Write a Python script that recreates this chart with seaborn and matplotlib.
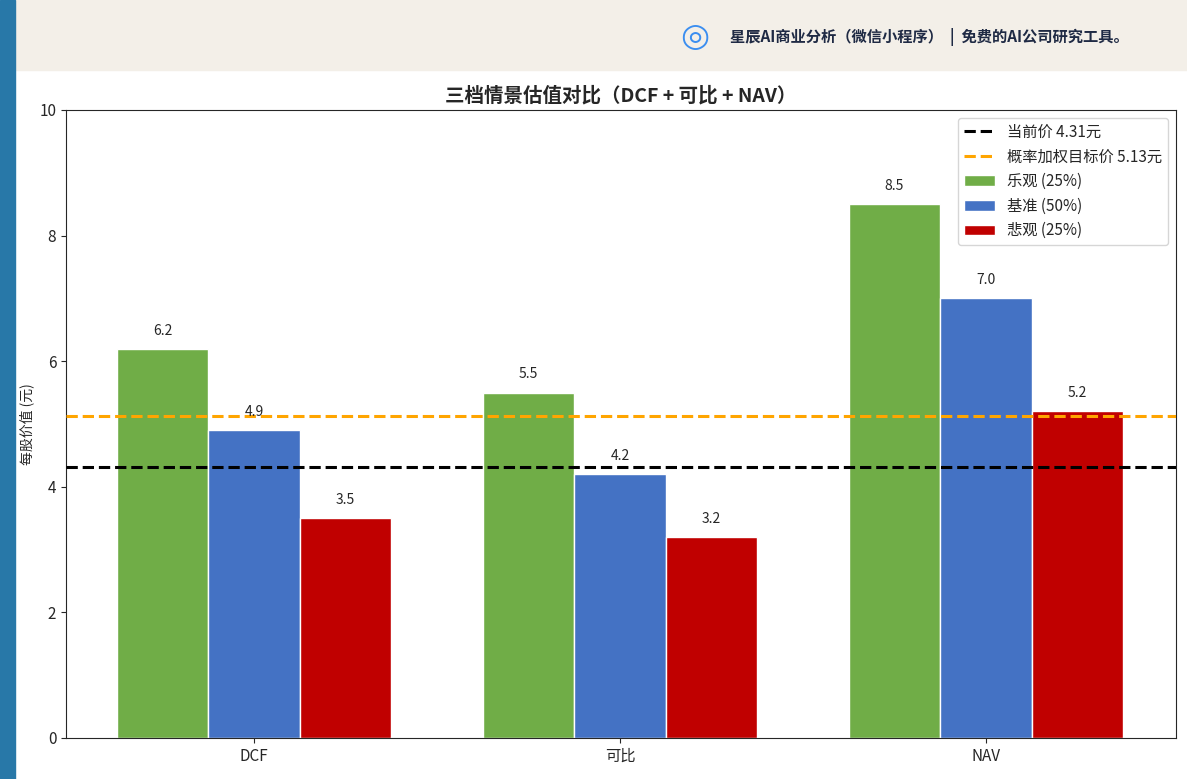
import matplotlib
matplotlib.use("Agg")
import matplotlib.pyplot as plt
import seaborn as sns
import pandas as pd
from matplotlib.patches import Rectangle

sns.set_style("ticks")
plt.rcParams['font.family'] = ['Noto Sans CJK SC', 'DejaVu Sans']

methods = ["DCF", "可比", "NAV"]
scenarios = ["乐观 (25%)", "基准 (50%)", "悲观 (25%)"]
values = {
    "乐观 (25%)": [6.2, 5.5, 8.5],
    "基准 (50%)": [4.9, 4.2, 7.0],
    "悲观 (25%)": [3.5, 3.2, 5.2],
}
colors = ["#70ad47", "#4472c4", "#c00000"]
current_price = 4.31
target_price = 5.13

rows = []
for s in scenarios:
    for m, v in zip(methods, values[s]):
        rows.append({"method": m, "scenario": s, "value": v})
df = pd.DataFrame(rows)

fig = plt.figure(figsize=(11.87, 7.79), dpi=100)
ax = fig.add_axes([66/1187, 41/779, 1110/1187, 628/779])

ax.axhline(current_price, color="black", ls="--", lw=2.2, label=f"当前价 {current_price}元", zorder=3)
ax.axhline(target_price, color="orange", ls="--", lw=2.2, label=f"概率加权目标价 {target_price}元", zorder=3)
sns.barplot(data=df, x="method", y="value", hue="scenario", palette=colors,
            width=0.75, ax=ax, saturation=1, zorder=2)
for c in ax.containers:
    ax.bar_label(c, fmt="%.1f", padding=8, fontsize=10)

ax.set_xlim(-188/366, 2 + 188/366 + (1176-66-188-732)/366 - 188/366)
ax.set_xlim(-188/366, (1176-254)/366)
ax.set_ylim(0, 10)
ax.set_xlabel("")
ax.set_ylabel("每股价值 (元)", fontsize=10)
ax.set_title("三档情景估值对比（DCF + 可比 + NAV）", fontsize=14, fontweight="bold", pad=6)
ax.tick_params(labelsize=11)
ax.legend(loc="upper right", fontsize=11, frameon=True)

fig.add_artist(Rectangle((15/1187, 1-70/779), 1, 70/779, transform=fig.transFigure,
                         color="#f3efe8", zorder=0))
fig.add_artist(Rectangle((0, 0), 15/1187, 1, transform=fig.transFigure,
                         color="#2878a8", zorder=10))
fig.text(730/1187, 1-37/779, "星辰AI商业分析（微信小程序）  |  免费的AI公司研究工具。",
         fontsize=11, fontweight="bold", color="#1f2a44", va="center", ha="left")
fig.text(695/1187, 1-36/779, "◎", fontsize=24, color="#3b8ef0", va="center", ha="center",
         family=['DejaVu Sans'])

fig.savefig("out.png", dpi=100)
